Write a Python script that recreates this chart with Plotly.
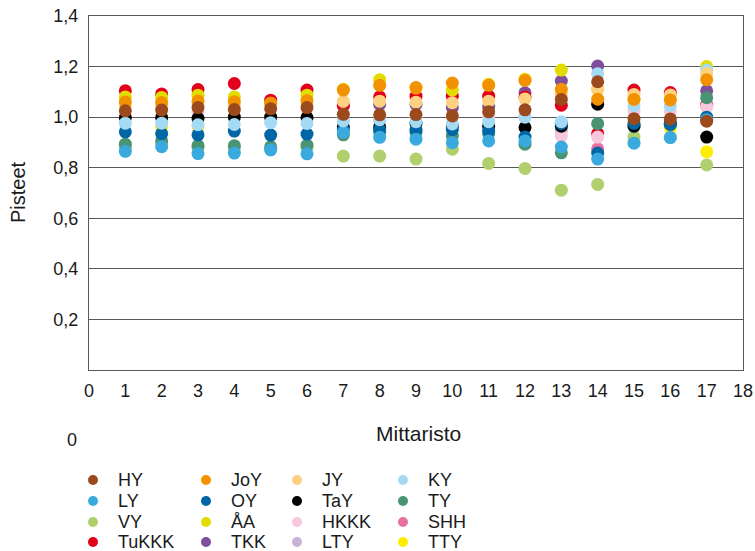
import plotly.graph_objects as go

# Measuring points (Mittaristo 1-17)
mittaristo = list(range(1, 18))

# Scores per university, one value per measuring point (None = no value)
HY = [1.025, 1.028, 1.038, 1.030, 1.033, 1.038, 1.011, 1.009, 1.010, 1.005, 1.021, 1.029, 1.070, 1.140, 0.994, 0.993, 0.984]
JoY = [1.060, 1.058, 1.064, 1.061, 1.055, 1.065, 1.107, 1.126, 1.117, 1.135, 1.126, 1.145, 1.110, 1.071, 1.070, 1.068, 1.148]
JY = [1.045, 1.045, 1.050, 1.045, 1.045, 1.050, 1.062, 1.063, 1.059, 1.057, 1.063, 1.072, 1.090, 1.113, 1.090, 1.088, 1.173]
KY = [0.976, 0.976, 0.970, 0.971, 0.978, 0.975, 0.985, 0.990, 0.982, 0.973, 0.982, 1.000, 0.982, 1.172, 1.044, 1.045, 1.186]
LY = [0.865, 0.883, 0.856, 0.858, 0.870, 0.855, 0.940, 0.920, 0.913, 0.899, 0.906, 0.906, 0.882, 0.834, 0.897, 0.919, 0.990]
OY = [0.942, 0.935, 0.930, 0.945, 0.929, 0.933, 0.950, 0.951, 0.949, 0.951, 0.945, 0.921, 0.975, 0.858, 0.975, 0.972, 1.000]
TaY = [0.998, 0.998, 0.995, 1.000, 1.000, 0.998, 0.962, 0.962, 0.975, 0.965, 0.964, 0.959, 0.964, 1.051, 0.965, 0.975, 0.921]
TY = [0.893, 0.906, 0.887, 0.887, 0.883, 0.889, 0.930, 0.940, 0.940, 0.925, 0.935, 0.893, 0.859, 0.974, 0.962, 0.970, 1.077]
VY = [0.880, 0.895, 0.878, 0.878, 0.875, 0.880, 0.846, 0.846, 0.834, 0.873, 0.817, 0.797, 0.711, 0.734, 0.921, 0.920, 0.811]
AA = [1.080, 1.078, 1.087, 1.080, 1.055, 1.087, 1.110, 1.148, 1.115, 1.107, 1.130, 1.150, 1.186, 1.110, 1.070, 1.070, 1.200]
HKKK = [None, None, 1.020, None, None, None, 0.990, 0.985, 1.000, 1.000, 1.000, 1.005, 0.925, 0.921, 1.025, 1.022, 1.040]
SHH = [None, None, None, None, None, None, None, None, None, None, None, None, None, 0.875, None, None, 1.047]
TuKKK = [1.104, 1.092, 1.109, 1.133, 1.067, 1.107, 1.045, 1.080, 1.083, 1.083, 1.083, 1.080, 1.047, 0.935, 1.107, 1.097, 1.050]
TKK = [None, None, None, None, None, None, 1.047, 1.050, 1.050, 1.038, 1.040, 1.096, 1.143, 1.202, None, None, 1.104]
LTY = [None, None, None, None, None, None, None, None, None, None, None, None, 0.945, None, None, None, None]
TTY = [None, 0.962, 0.962, None, None, None, None, None, None, None, None, None, None, None, None, 0.957, 0.863]

series = [
    ("HY", HY, "#9b4a1e"),
    ("JoY", JoY, "#f39200"),
    ("JY", JY, "#fdd17f"),
    ("KY", KY, "#a4daf4"),
    ("LY", LY, "#3aa9de"),
    ("OY", OY, "#0066a6"),
    ("TaY", TaY, "#000000"),
    ("TY", TY, "#4a9474"),
    ("VY", VY, "#b1cf6d"),
    ("ÅA", AA, "#e2dc00"),
    ("HKKK", HKKK, "#f6c7dd"),
    ("SHH", SHH, "#e870a0"),
    ("TuKKK", TuKKK, "#e2001a"),
    ("TKK", TKK, "#7f4f9c"),
    ("LTY", LTY, "#c6b4d7"),
    ("TTY", TTY, "#ffed00"),
]

fig = go.Figure()
# Last series first so that HY ends up on top
for name, vals, color in reversed(series):
    fig.add_trace(go.Scatter(
        x=mittaristo, y=vals, name=name, mode="markers",
        marker=dict(color=color, size=13, line=dict(width=0)),
        showlegend=False,
    ))

font_family = "Liberation Sans, Arial, sans-serif"
text_color = "#1a1a1a"
axis_color = "#595959"

# Plot-area geometry in pixels, used to place the legend block below it
W, H = 755, 551
L, R, T, B = 89, 12, 16, 181
plot_w = W - L - R
plot_h = H - T - B


def px_to_paper(px, py):
    return (px - L) / plot_w, (H - B - py) / plot_h


# Legend: 4 rows, filled row by row in series order
legend_marker_x = [93, 206, 297, 403]
legend_text_x = [116, 229, 320, 426]
legend_row_y = [480, 501, 522, 542]

shapes = []
annotations = []
for i, (name, _, color) in enumerate(series):
    row, col = divmod(i, 4)
    mx, my = px_to_paper(legend_marker_x[col], legend_row_y[row])
    shapes.append(dict(
        type="circle", xref="paper", yref="paper",
        xsizemode="pixel", ysizemode="pixel",
        xanchor=mx, yanchor=my, x0=-5, x1=5, y0=-5, y1=5,
        fillcolor=color, line=dict(width=0),
    ))
    tx, ty = px_to_paper(legend_text_x[col], legend_row_y[row])
    annotations.append(dict(
        text=name, xref="paper", yref="paper", x=tx, y=ty,
        xanchor="left", yanchor="middle", showarrow=False,
        font=dict(size=18, color=text_color),
    ))

xt, yt = px_to_paper(418, 433)
annotations.append(dict(text="Mittaristo", xref="paper", yref="paper", x=xt, y=yt,
                        xanchor="center", yanchor="middle", showarrow=False,
                        font=dict(size=21, color=text_color)))
xt, yt = px_to_paper(18, 192)
annotations.append(dict(text="Pisteet", xref="paper", yref="paper", x=xt, y=yt,
                        xanchor="center", yanchor="middle", textangle=-90, showarrow=False,
                        font=dict(size=20, color=text_color)))
xt, yt = px_to_paper(72, 440)
annotations.append(dict(text="0", xref="paper", yref="paper", x=xt, y=yt,
                        xanchor="center", yanchor="middle", showarrow=False,
                        font=dict(size=18, color=text_color)))

fig.update_layout(
    width=W, height=H,
    margin=dict(l=L, r=R, t=T, b=B, autoexpand=False),
    paper_bgcolor="white", plot_bgcolor="white",
    separators=", ",
    font=dict(family=font_family, size=18, color=text_color),
    showlegend=False,
    xaxis=dict(
        range=[0, 18], tickmode="array", tickvals=list(range(0, 19)),
        showgrid=False, zeroline=False, automargin=False,
        showline=True, linecolor=axis_color, linewidth=1, mirror=True,
        ticks="", ticklabelstandoff=4,
        tickfont=dict(size=18, color=text_color),
    ),
    yaxis=dict(
        range=[0, 1.4], tickmode="array",
        tickvals=[0.2, 0.4, 0.6, 0.8, 1.0, 1.2, 1.4], tickformat=".1f",
        showgrid=True, gridcolor=axis_color, gridwidth=1, zeroline=False,
        automargin=False,
        showline=True, linecolor=axis_color, linewidth=1, mirror=True,
        ticks="", ticklabelstandoff=6,
        tickfont=dict(size=18, color=text_color),
    ),
    shapes=shapes,
    annotations=annotations,
)

fig.write_html("out.html")
